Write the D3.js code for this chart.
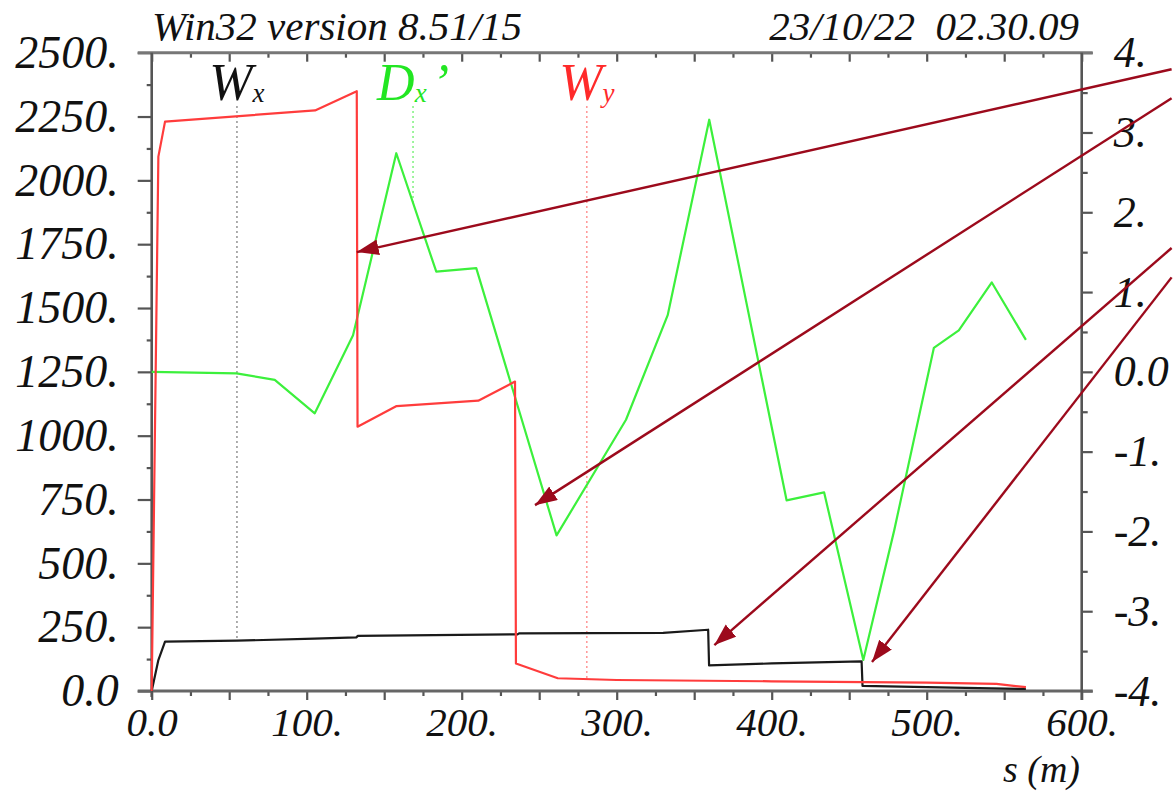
<!DOCTYPE html>
<html><head><meta charset="utf-8">
<script src="https://cdn.jsdelivr.net/npm/d3@7"></script>
<style>
body{margin:0;background:#fff}
svg{display:block}
text{font-family:"Liberation Serif","Times New Roman",serif;font-style:italic}
</style></head><body>
<svg id="chart" width="1173" height="801"></svg>
<script>
// Path length s (m) and horizontal / vertical beta-like functions W (left axis)
const wxS = [0, 4.3, 8.6, 55, 105, 132, 133, 236, 237, 330, 359, 359.6, 400, 458, 458.6, 500, 564];
const wxV = [0, 121, 193, 197, 205, 210, 216, 222, 226, 228, 240, 100, 108, 116, 20, 15, 8];

const wyS = [0, 4.3, 8.6, 105.4, 132.3, 132.8, 158, 210.7, 234.4, 235, 262, 300, 400, 500, 545, 564];
const wyV = [0, 2093, 2230, 2274, 2349, 1035, 1116, 1137, 1212, 108, 50, 43, 38, 33, 28, 15];

// Derivative of horizontal dispersion D'x (right axis)
const dxS = [0, 54.7, 79.4, 105.2, 129.9, 157.8, 183.6, 209.4, 261.2, 306, 332.9, 359.7, 409.6, 433.8, 459.1, 479, 504.6, 520.7, 542, 564];
const dxV = [0, -0.02, -0.1, -0.52, 0.46, 2.74, 1.255, 1.30, -2.05, -0.60, 0.71, 3.16, -1.61, -1.51, -3.61, -1.99, 0.30, 0.52, 1.12, 0.40];

// Axis ticks
const sTicks = [0, 100, 200, 300, 400, 500, 600];
const leftTicks = [0, 250, 500, 750, 1000, 1250, 1500, 1750, 2000, 2250, 2500];
const rightTicks = [-4, -3, -2, -1, 0, 1, 2, 3, 4];

// Curve labels: name, subscript, s position of the marker line, series
const curveLabels = [
  {main: "W", sub: "x", prime: "", s: 55, color: "#111", dot: "#9a9a9a", series: "wx"},
  {main: "D", sub: "x", prime: "\u2019", s: 168.6, color: "#22e622", dot: "#86f286", series: "dx"},
  {main: "W", sub: "y", prime: "", s: 280.7, color: "#ff2a2a", dot: "#ff9a9a", series: "wy"}
];

// Annotation arrows: start (off to the right) and tip, in (s, W) units
const arrowFrom = [[658, 2435], [658, 2322], [658, 1735], [658, 1620]];
const arrowTo   = [[132.3, 1719], [247.3, 728], [363, 180], [464.7, 113.6]];

const svg = d3.select("#chart");
const x = d3.scaleLinear().domain([0, 600]).range([151.7, 1081.7]);
const yL = d3.scaleLinear().domain([0, 2500]).range([691, 52.7]);
const yR = d3.scaleLinear().domain([-4, 4]).range([691, 52.7]);

const fmt = d => d === 0 ? "0.0" : d + ".";

// header
svg.append("text").attr("x", 152).attr("y", 40).attr("font-size", 41).attr("fill", "#111")
  .text("Win32 version 8.51/15");
svg.append("text").attr("x", 1079).attr("y", 40).attr("font-size", 41).attr("fill", "#111")
  .attr("text-anchor", "end").style("white-space", "pre").text("23/10/22  02.30.09");

// axes
function styleAxis(fs) {
  return g => {
    g.select(".domain").remove();
    g.selectAll(".tick line").attr("stroke", "#555").attr("stroke-width", 2.2);
    g.selectAll("text").attr("font-size", fs).attr("fill", "#111")
      .attr("font-family", '"Liberation Serif","Times New Roman",serif').style("font-style", "italic");
  };
}
const minorS = d3.range(0, 601, 25).filter(v => v % 50 !== 0);
const majorS = d3.range(0, 601, 50);

// bottom axis: ticks hang below the line
svg.append("g").attr("transform", `translate(0,${yL(0)})`)
  .call(d3.axisBottom(x).tickValues(majorS).tickSizeOuter(0).tickSize(9).tickFormat(""))
  .call(styleAxis(40));
svg.append("g").attr("transform", `translate(0,${yL(0)})`)
  .call(d3.axisBottom(x).tickValues(minorS).tickSizeOuter(0).tickSize(5).tickFormat(""))
  .call(styleAxis(40));
const bl = svg.append("g").attr("transform", `translate(0,${yL(0)})`)
  .call(d3.axisBottom(x).tickValues(sTicks).tickSizeOuter(0).tickSize(0).tickFormat(fmt))
  .call(styleAxis(41));
bl.selectAll("text").attr("y", 45).attr("dy", 0);

// top axis: ticks hang down into the frame
svg.append("g").attr("transform", `translate(0,${yL(2500)})`)
  .call(d3.axisBottom(x).tickValues(majorS).tickSizeOuter(0).tickSize(9).tickFormat(""))
  .call(styleAxis(40));
svg.append("g").attr("transform", `translate(0,${yL(2500)})`)
  .call(d3.axisBottom(x).tickValues(minorS).tickSizeOuter(0).tickSize(5).tickFormat(""))
  .call(styleAxis(40));

// left axis
svg.append("g").attr("transform", `translate(${x(0)},0)`)
  .call(d3.axisLeft(yL).tickValues(leftTicks).tickSizeOuter(0).tickSize(14).tickPadding(19).tickFormat(fmt))
  .call(styleAxis(46));
svg.append("g").attr("transform", `translate(${x(0)},0)`)
  .call(d3.axisLeft(yL).tickValues(d3.range(125, 2500, 250)).tickSizeOuter(0).tickSize(5).tickFormat(""))
  .call(styleAxis(46));

// right axis
svg.append("g").attr("transform", `translate(${x(600)},0)`)
  .call(d3.axisRight(yR).tickValues(rightTicks).tickSizeOuter(0).tickSize(11).tickPadding(21).tickFormat(fmt))
  .call(styleAxis(44));
svg.append("g").attr("transform", `translate(${x(600)},0)`)
  .call(d3.axisRight(yR).tickValues(d3.range(-3.5, 4, 1)).tickSizeOuter(0).tickSize(6).tickFormat(""))
  .call(styleAxis(44));

// frame
const fr = svg.append("g").attr("fill", "none");
fr.append("line").attr("x1", x(0) - 14).attr("x2", x(600) + 11).attr("y1", yL(2500)).attr("y2", yL(2500))
  .attr("stroke", "#777").attr("stroke-width", 3);
fr.append("line").attr("x1", x(0) - 14).attr("x2", x(600) + 11).attr("y1", yL(0)).attr("y2", yL(0))
  .attr("stroke", "#666").attr("stroke-width", 3);
fr.append("line").attr("x1", x(0)).attr("x2", x(0)).attr("y1", yL(2500)).attr("y2", yL(0) + 6)
  .attr("stroke", "#555").attr("stroke-width", 2.6);
fr.append("line").attr("x1", x(600)).attr("x2", x(600)).attr("y1", yL(2500)).attr("y2", yL(0) + 9)
  .attr("stroke", "#555").attr("stroke-width", 2.6);

// axis title
svg.append("text").attr("x", 1080).attr("y", 782).attr("font-size", 38).attr("fill", "#111")
  .attr("text-anchor", "end").style("white-space", "pre").text("s (m)");

// curves
const series = {
  wx: {s: wxS, v: wxV, y: yL, color: "#1a1a1a"},
  wy: {s: wyS, v: wyV, y: yL, color: "#ff3c3c"},
  dx: {s: dxS, v: dxV, y: yR, color: "#3cf03c"}
};
function interp(ser, s) {
  const i = d3.bisectLeft(ser.s, s);
  if (i <= 0) return ser.v[0];
  if (i >= ser.s.length) return ser.v[ser.v.length - 1];
  const s0 = ser.s[i - 1], s1 = ser.s[i];
  return ser.v[i - 1] + (ser.v[i] - ser.v[i - 1]) * (s - s0) / (s1 - s0);
}

// marker lines from each label down to its curve
curveLabels.forEach(c => {
  const ser = series[c.series];
  svg.append("line").attr("x1", x(c.s)).attr("x2", x(c.s))
    .attr("y1", 106).attr("y2", ser.y(interp(ser, c.s)))
    .attr("stroke", c.dot).attr("stroke-width", 1.6).attr("stroke-dasharray", "2,3");
});

["dx", "wx", "wy"].forEach(k => {
  const ser = series[k];
  const pts = ser.s.map((s, i) => [s, ser.v[i]]);
  svg.append("path").datum(pts)
    .attr("fill", "none").attr("stroke", ser.color).attr("stroke-width", 2.2)
    .attr("stroke-linejoin", "round")
    .attr("d", d3.line().x(d => x(d[0])).y(d => ser.y(d[1])));
});

// curve labels
curveLabels.forEach(c => {
  const t = svg.append("text").attr("x", x(c.s)).attr("y", 100).attr("text-anchor", "middle")
    .attr("font-size", 52).attr("fill", c.color);
  t.append("tspan").text(c.main);
  t.append("tspan").attr("font-size", 27).attr("dy", 2).text(c.sub);
  if (c.prime) t.append("tspan").attr("dy", -2).attr("dx", 5).text(c.prime);
});

// annotation arrows
svg.append("defs").append("marker").attr("id", "head")
  .attr("markerUnits", "userSpaceOnUse").attr("markerWidth", 24).attr("markerHeight", 18)
  .attr("refX", 22).attr("refY", 8).attr("orient", "auto")
  .append("path").attr("d", "M0,0 L22,8 L0,16 Z").attr("fill", "#9c0a1c");
arrowFrom.forEach((a, i) => {
  const b = arrowTo[i];
  svg.append("line").attr("x1", x(a[0])).attr("y1", yL(a[1]))
    .attr("x2", x(b[0])).attr("y2", yL(b[1]))
    .attr("stroke", "#9c0a1c").attr("stroke-width", 2.4).attr("marker-end", "url(#head)");
});
</script>
</body></html>
